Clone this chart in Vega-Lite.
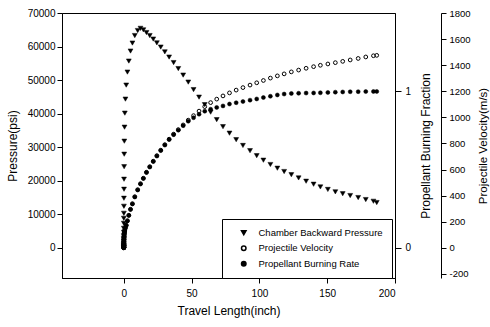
{
  "$schema": "https://vega.github.io/schema/vega-lite/v6.json",
  "width": 333,
  "height": 265,
  "autosize": {"type": "none"},
  "padding": {"left": 62, "top": 13, "right": 95, "bottom": 49},
  "background": "white",
  "config": {
    "font": "Liberation Sans",
    "view": {"stroke": "black", "strokeWidth": 1},
    "axis": {
      "labelFont": "Liberation Sans", "labelFontSize": 10, "labelColor": "black",
      "titleFont": "Liberation Sans", "titleFontSize": 12, "titleFontWeight": "normal", "titleColor": "black",
      "domainColor": "black", "tickColor": "black", "tickSize": 5, "grid": false, "labelPadding": 2
    },
    "legend": {
      "orient": "none", "legendX": 160, "legendY": 206,
      "strokeColor": "black", "fillColor": "white", "padding": 9,
      "symbolOffset": 8, "labelOffset": 10, "rowPadding": 4.5,
      "labelFont": "Liberation Sans", "labelFontSize": 9.5, "labelColor": "black", "labelLimit": 300,
      "symbolSize": 20, "symbolOpacity": 1
    }
  },
  "data": {"values": [
    {"x":0,"p":0,"v":0,"f":0},
    {"x":0,"p":149,"v":0.8,"f":0.0006},
    {"x":0,"p":299,"v":1.5,"f":0.0013},
    {"x":0,"p":597,"v":3.1,"f":0.0025},
    {"x":0,"p":896,"v":4.6,"f":0.0038},
    {"x":0,"p":1343,"v":6.9,"f":0.0057},
    {"x":0,"p":1940,"v":10,"f":0.0083},
    {"x":0,"p":2687,"v":13.8,"f":0.0115},
    {"x":0,"p":3582,"v":18.4,"f":0.0153},
    {"x":0,"p":4627,"v":23.8,"f":0.0197},
    {"x":0,"p":5821,"v":29.9,"f":0.0248},
    {"x":0,"p":7313,"v":36.8,"f":0.0306},
    {"x":0,"p":8806,"v":44.5,"f":0.0369},
    {"x":0.04,"p":10298,"v":53,"f":0.0439},
    {"x":0.07,"p":12388,"v":62.2,"f":0.0516},
    {"x":0.07,"p":14776,"v":71.4,"f":0.0592},
    {"x":0.15,"p":17462,"v":80.6,"f":0.0669},
    {"x":0.15,"p":20447,"v":89.8,"f":0.0745},
    {"x":0.22,"p":24179,"v":99,"f":0.0822},
    {"x":0.29,"p":27910,"v":108.2,"f":0.0898},
    {"x":0.37,"p":31790,"v":117.4,"f":0.0975},
    {"x":0.52,"p":35969,"v":126.7,"f":0.1051},
    {"x":0.74,"p":40148,"v":137.4,"f":0.114},
    {"x":1.18,"p":44327,"v":153.5,"f":0.1274},
    {"x":1.77,"p":48506,"v":172.7,"f":0.1433},
    {"x":2.65,"p":52387,"v":207.3,"f":0.172},
    {"x":3.68,"p":55670,"v":249.5,"f":0.207},
    {"x":4.93,"p":58655,"v":295.5,"f":0.2452},
    {"x":6.33,"p":61043,"v":337.7,"f":0.2803},
    {"x":8.09,"p":63282,"v":391.5,"f":0.3248},
    {"x":10.23,"p":64775,"v":445.2,"f":0.3694},
    {"x":12.29,"p":65431,"v":491.3,"f":0.4076},
    {"x":14.42,"p":64983,"v":533.5,"f":0.4427},
    {"x":16.7,"p":64178,"v":579.5,"f":0.4809},
    {"x":19.13,"p":63282,"v":621.8,"f":0.5159},
    {"x":21.71,"p":62237,"v":664,"f":0.551},
    {"x":24.36,"p":61103,"v":706.2,"f":0.586},
    {"x":27.23,"p":59849,"v":748.4,"f":0.621},
    {"x":30.24,"p":58416,"v":790.6,"f":0.6561},
    {"x":33.41,"p":56864,"v":832.8,"f":0.6911},
    {"x":36.72,"p":55223,"v":871.2,"f":0.7229},
    {"x":40.18,"p":53432,"v":905.8,"f":0.7516},
    {"x":43.78,"p":51491,"v":941.8,"f":0.7803},
    {"x":47.53,"p":49402,"v":978.7,"f":0.8089},
    {"x":51.43,"p":47163,"v":1013.2,"f":0.8312},
    {"x":55.48,"p":44924,"v":1047.8,"f":0.8535},
    {"x":59.68,"p":42686,"v":1082.3,"f":0.8726},
    {"x":64.02,"p":40447,"v":1113,"f":0.8854},
    {"x":68.51,"p":38208,"v":1139.9,"f":0.8968},
    {"x":73.14,"p":36119,"v":1164.4,"f":0.9064},
    {"x":77.93,"p":34178,"v":1187.5,"f":0.9185},
    {"x":82.86,"p":32238,"v":1209,"f":0.9268},
    {"x":87.86,"p":30507,"v":1228.2,"f":0.9344},
    {"x":93.08,"p":28955,"v":1247.4,"f":0.9433},
    {"x":98.01,"p":27462,"v":1265,"f":0.951},
    {"x":102.94,"p":26119,"v":1282.7,"f":0.9599},
    {"x":108.09,"p":24835,"v":1301.1,"f":0.9682},
    {"x":113.24,"p":23731,"v":1318,"f":0.9764},
    {"x":118.24,"p":22746,"v":1333.3,"f":0.9822},
    {"x":123.55,"p":21791,"v":1348.7,"f":0.986},
    {"x":128.92,"p":20835,"v":1362.5,"f":0.9873},
    {"x":134.44,"p":19850,"v":1376.3,"f":0.9885},
    {"x":139.96,"p":18955,"v":1388.6,"f":0.9892},
    {"x":144.96,"p":18149,"v":1399.3,"f":0.9904},
    {"x":150.48,"p":17403,"v":1409.3,"f":0.9924},
    {"x":156,"p":16686,"v":1419.3,"f":0.9943},
    {"x":161.44,"p":16119,"v":1429.3,"f":0.9955},
    {"x":166.96,"p":15582,"v":1440,"f":0.9968},
    {"x":172.85,"p":14985,"v":1451.5,"f":0.9975},
    {"x":178.44,"p":14388,"v":1463,"f":0.9981},
    {"x":184.11,"p":13880,"v":1472.3,"f":0.9987},
    {"x":186.53,"p":13492,"v":1475.3,"f":0.9987}
  ]},
  "encoding": {
    "x": {
      "field": "x", "type": "quantitative",
      "scale": {"domain": [-45.6, 200], "nice": false, "zero": false},
      "axis": {"values": [0, 50, 100, 150, 200], "title": "Travel Length(inch)", "labelPadding": 5, "titlePadding": 7}
    }
  },
  "layer": [
    {
      "mark": {"type": "point", "filled": true, "opacity": 1, "size": 24, "stroke": "black", "strokeWidth": 0.5},
      "encoding": {
        "y": {
          "field": "p", "type": "quantitative",
          "scale": {"domain": [-9000, 70000], "nice": false, "zero": false},
          "axis": {"orient": "left", "values": [0, 10000, 20000, 30000, 40000, 50000, 60000, 70000], "title": "Pressure(psi)", "titlePadding": 8, "format": "d"}
        },
        "shape": {
          "datum": "Chamber Backward Pressure",
          "scale": {"domain": ["Chamber Backward Pressure", "Projectile Velocity", "Propellant Burning Rate"], "range": ["triangle-down", "circle", "circle"]},
          "legend": {"title": null, "encode": {"symbols": {"update": {"stroke": {"value": "black"}, "strokeWidth": {"value": 1}, "opacity": {"value": 1}}}}}
        },
        "fill": {
          "datum": "Chamber Backward Pressure",
          "scale": {"domain": ["Chamber Backward Pressure", "Projectile Velocity", "Propellant Burning Rate"], "range": ["black", "transparent", "black"]},
          "legend": {"title": null, "encode": {"symbols": {"update": {"stroke": {"value": "black"}, "strokeWidth": {"value": 1}, "opacity": {"value": 1}}}}}
        }
      }
    },
    {
      "mark": {"type": "point", "filled": true, "opacity": 1, "size": 16, "stroke": "black", "strokeWidth": 0.5},
      "encoding": {
        "y": {
          "field": "f", "type": "quantitative",
          "scale": {"domain": [-0.1929, 1.5], "nice": false, "zero": false},
          "axis": {"orient": "right", "values": [0, 1], "title": "Propellant Burning Fraction", "titleAngle": 270, "titleBaseline": "top", "tickSize": 6, "labelPadding": 4, "titlePadding": 10}
        },
        "shape": {"datum": "Propellant Burning Rate"},
        "fill": {"datum": "Propellant Burning Rate"}
      }
    },
    {
      "mark": {"type": "point", "filled": true, "opacity": 1, "size": 14, "stroke": "black", "strokeWidth": 1},
      "encoding": {
        "y": {
          "field": "v", "type": "quantitative",
          "scale": {"domain": [-231.4, 1800], "nice": false, "zero": false},
          "axis": {"orient": "right", "offset": 46, "values": [-200, 0, 200, 400, 600, 800, 1000, 1200, 1400, 1600, 1800], "labelExpr": "datum.value + ''", "labelFontSize": 9.5, "title": "Projectile Velocity(m/s)", "titleFontSize": 11.5, "titleAngle": 270, "titleBaseline": "top", "labelPadding": 3, "titlePadding": 7}
        },
        "shape": {"datum": "Projectile Velocity"},
        "fill": {"datum": "Projectile Velocity"}
      }
    }
  ],
  "resolve": {"scale": {"y": "independent"}}
}
